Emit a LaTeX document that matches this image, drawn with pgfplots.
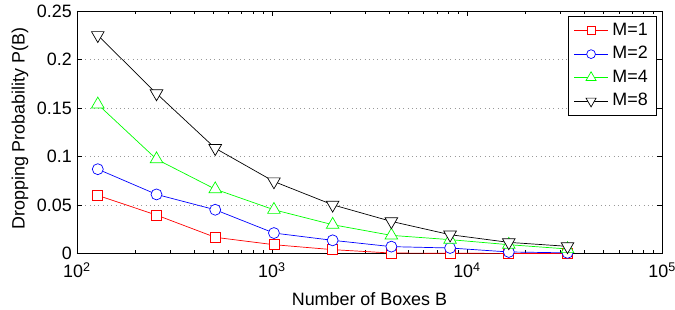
\documentclass[border=0pt]{standalone}
\usepackage{pgfplots}
\pgfplotsset{compat=1.18}
\usepackage{fontspec}
\setmainfont{Liberation Sans}
\definecolor{mred}{rgb}{1,0,0}
\definecolor{mblue}{rgb}{0,0,1}
\definecolor{mgreen}{rgb}{0,1,0}
\begin{document}
\fontsize{18}{21}\selectfont
\begin{tikzpicture}
\begin{axis}[
  name=ax,
  scale only axis,
  width=586bp, height=243bp,
  xmode=log,
  xmin=100, xmax=100000,
  ymin=0, ymax=0.25,
  xtick={100,1000,10000,100000},
  xticklabels={10\textsuperscript{2},10\textsuperscript{3},10\textsuperscript{4},10\textsuperscript{5}},
  ytick={0,0.05,0.1,0.15,0.2,0.25},
  yticklabels={0,0.05,0.1,0.15,0.2,0.25},
  scaled y ticks=false,
  tick align=inside,
  major tick length=5bp,
  minor tick length=3.5bp,
  tick style={black, line width=0.5bp},
  ymajorgrids,
  grid style={dash pattern=on 1bp off 3.3bp, gray!80, line width=0.7bp},
  axis line style={line width=0.7bp},
  xlabel={Number of Boxes B},
  ylabel={Dropping Probability P(B)},
  xlabel style={at={(axis description cs:0.5,-0.214)}, anchor=base},
  ylabel style={at={(axis description cs:-0.0973,0.515)}, anchor=center},
  xticklabel style={yshift=-3bp},
  yticklabel style={xshift=1bp},
  ticklabel style={font=\fontsize{18}{21}\selectfont},
  label style={font=\fontsize{18}{21}\selectfont},
  legend style={at={(0.9915,0.979)}, anchor=north east, draw=black, line width=0.7bp,
    font=\fontsize{18}{21}\selectfont, row sep=0bp, inner ysep=2.5bp, inner xsep=5bp,
    nodes={text height=13bp, text depth=4bp, inner ysep=3.25bp, inner xsep=4bp}},
  legend cell align=left,
  legend image code/.code={\draw[mark repeat=2,mark phase=2,#1,every mark/.append style={scale=0.8}] plot coordinates {(0bp,0bp) (17bp,0bp) (34bp,0bp)};},
  every axis plot/.append style={line width=0.7bp},
]
\addplot[mred, mark=square*, mark size=5bp, mark options={fill=white, solid}] coordinates {
(128,0.060) (256,0.0397) (512,0.0168) (1024,0.0092) (2048,0.0041) (4096,0.0006) (8192,0.0004) (16384,0.0002) (32768,0.0001)};
\addlegendentry{M=1}
\addplot[mblue, mark=*, mark size=5.5bp, mark options={fill=white, solid}] coordinates {
(128,0.087) (256,0.061) (512,0.0452) (1024,0.0212) (2048,0.0137) (4096,0.0072) (8192,0.0058) (16384,0.0017) (32768,0.0008)};
\addlegendentry{M=2}
\addplot[mgreen, mark=triangle*, mark size=7.3bp, mark options={fill=white, solid}] coordinates {
(128,0.1538) (256,0.0973) (512,0.0664) (1024,0.0452) (2048,0.0298) (4096,0.0188) (8192,0.0144) (16384,0.0092) (32768,0.0048)};
\addlegendentry{M=4}
\addplot[black, mark=triangle*, mark size=7.3bp, mark options={fill=white, solid, rotate=180}] coordinates {
(128,0.225) (256,0.165) (512,0.1086) (1024,0.0743) (2048,0.0503) (4096,0.0332) (8192,0.0195) (16384,0.0116) (32768,0.0075)};
\addlegendentry{M=8}
\end{axis}
\pgfresetboundingbox
\path ([shift={(-77bp,-56bp)}]ax.south west) rectangle ([shift={(13bp,11bp)}]ax.north east);
\end{tikzpicture}
\end{document}
